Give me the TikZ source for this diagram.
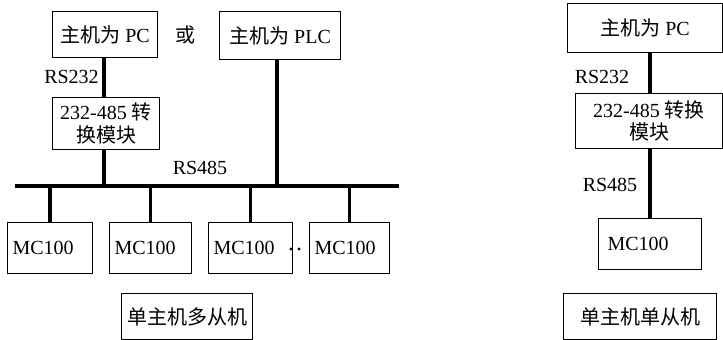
\documentclass[tikz,border=0pt]{standalone}
\usepackage{fontspec}
\setmainfont{Liberation Serif}
\newfontfamily\cjk{Noto Sans CJK SC}
\usetikzlibrary{calc}
\tikzset{
  box/.style={draw, line width=1.1pt, inner sep=0pt, anchor=north west},
  conn/.style={line width=3.6pt},
  busline/.style={line width=4pt},
  lbl/.style={inner sep=0pt},
}
\begin{document}
\begin{tikzpicture}[x=1pt,y=-1pt,font=\fontsize{20}{22.5}\selectfont]
\useasboundingbox (0,0) rectangle (723,340);
% ---------- left: single master, multiple slaves ----------
\node[box, minimum width=105, minimum height=46] (pc) at (52,11) {{\cjk 主机为} PC};
\node[lbl] (or) at (185,35) {\cjk 或};
\node[box, minimum width=121, minimum height=48] (plc) at (219,11) {{\cjk 主机为} PLC};
\node[box, minimum width=107, minimum height=52, align=center] (conv) at (52,97) {232-485 {\cjk 转}\\{\cjk 换模块}};
\node[lbl] (rs232a) at (71.5,77) {RS232};
\node[lbl] (rs485a) at (200,168) {RS485};
\coordinate (busL) at (15,186);
\coordinate (busR) at (399,186);
\draw[busline] (busL) -- (busR);
\draw[conn] (pc.south -| 104,0) -- (conv.north -| 104,0);
\draw[conn] (conv.south -| 104,0) -- (busL -| 104,0);
\draw[conn] (plc.south -| 277,0) -- (busL -| 277,0);
\tikzset{mc/.style={box, minimum height=51, inner xsep=5pt, text width=75pt, align=left}}
\node[mc] (m1) at (7,222) {MC100};
\node[mc, text width=72pt] (m2) at (109,222) {MC100};
\node[mc, text width=74pt] (m3) at (208,222) {MC100};
\node[mc, text width=70pt] (m4) at (309,222) {MC100};
\foreach \m in {m1,m2,m3,m4}{\draw[conn] (\m.north) -- (\m.north |- busL);}
\fill (291,249) circle (1.7);
\fill (299,249) circle (1.7);
\node[box, minimum width=131, minimum height=46] (title1) at (121,293) {\cjk 单主机多从机};
% ---------- right: single master, single slave ----------
\node[box, minimum width=155, minimum height=49] (pc2) at (567,3) {{\cjk 主机为} PC};
\node[lbl] (rs232b) at (602,77) {RS232};
\node[box, minimum width=147, minimum height=55, align=center] (conv2) at (575,93) {232-485 {\cjk 转换}\\{\cjk 模块}};
\node[lbl] (rs485b) at (610,185) {RS485};
\node[box, minimum width=103, minimum height=51, inner xsep=9pt, text width=85pt, align=left] (mcr) at (598,218) {MC100};
\draw[conn] (pc2.south -| 650,0) -- (conv2.north -| 650,0);
\draw[conn] (conv2.south -| 650,0) -- (mcr.north -| 650,0);
\node[box, minimum width=153, minimum height=46] (title2) at (563,293) {\cjk 单主机单从机};
\end{tikzpicture}
\end{document}
